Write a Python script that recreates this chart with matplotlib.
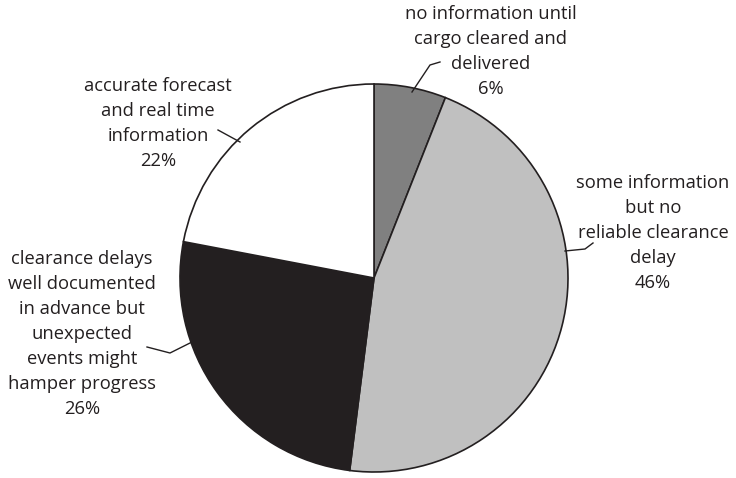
import matplotlib
matplotlib.use("Agg")
import matplotlib.pyplot as plt

# slice data, clockwise from 12 o'clock
labels = [
    "no information until\ncargo cleared and\ndelivered",
    "some information\nbut no\nreliable clearance\ndelay",
    "clearance delays\nwell documented\nin advance but\nunexpected\nevents might\nhamper progress",
    "accurate forecast\nand real time\ninformation",
]
shares = [6, 46, 26, 22]
colors = ["#808080", "#c0c0c0", "#231f20", "#ffffff"]

# label placement (pixel coords, y from top) and leader lines
label_xy = [(491, 51), (653, 233), (82, 334), (158, 123)]
leaders = [
    [(412, 92), (430, 65), (440, 62)],
    [(565, 251), (585, 249), (593, 243)],
    [(192, 342), (170, 353), (147, 347)],
    [(240, 142), (218, 130)],
]

W, H = 736, 478
plt.rcParams["font.family"] = ["Open Sans", "DejaVu Sans"]

fig = plt.figure(figsize=(W / 100, H / 100), dpi=100)
ax = fig.add_axes([0, 0, 1, 1])

ax.pie(shares, colors=colors, startangle=90, counterclock=False,
       center=(374, H - 278), radius=194, frame=True,
       wedgeprops=dict(edgecolor="#231f20", linewidth=1.2))
ax.set_xlim(0, W)
ax.set_ylim(0, H)
ax.set_aspect("equal")
ax.axis("off")

for lab, s, (x, y), pts in zip(labels, shares, label_xy, leaders):
    ax.text(x, H - y, f"{lab}\n{s}%", ha="center", va="center",
            fontsize=13.2, color="#231f20", linespacing=1.5)
    ax.plot([p[0] for p in pts], [H - p[1] for p in pts],
            color="#231f20", lw=1)

fig.savefig("out.png", dpi=100)
